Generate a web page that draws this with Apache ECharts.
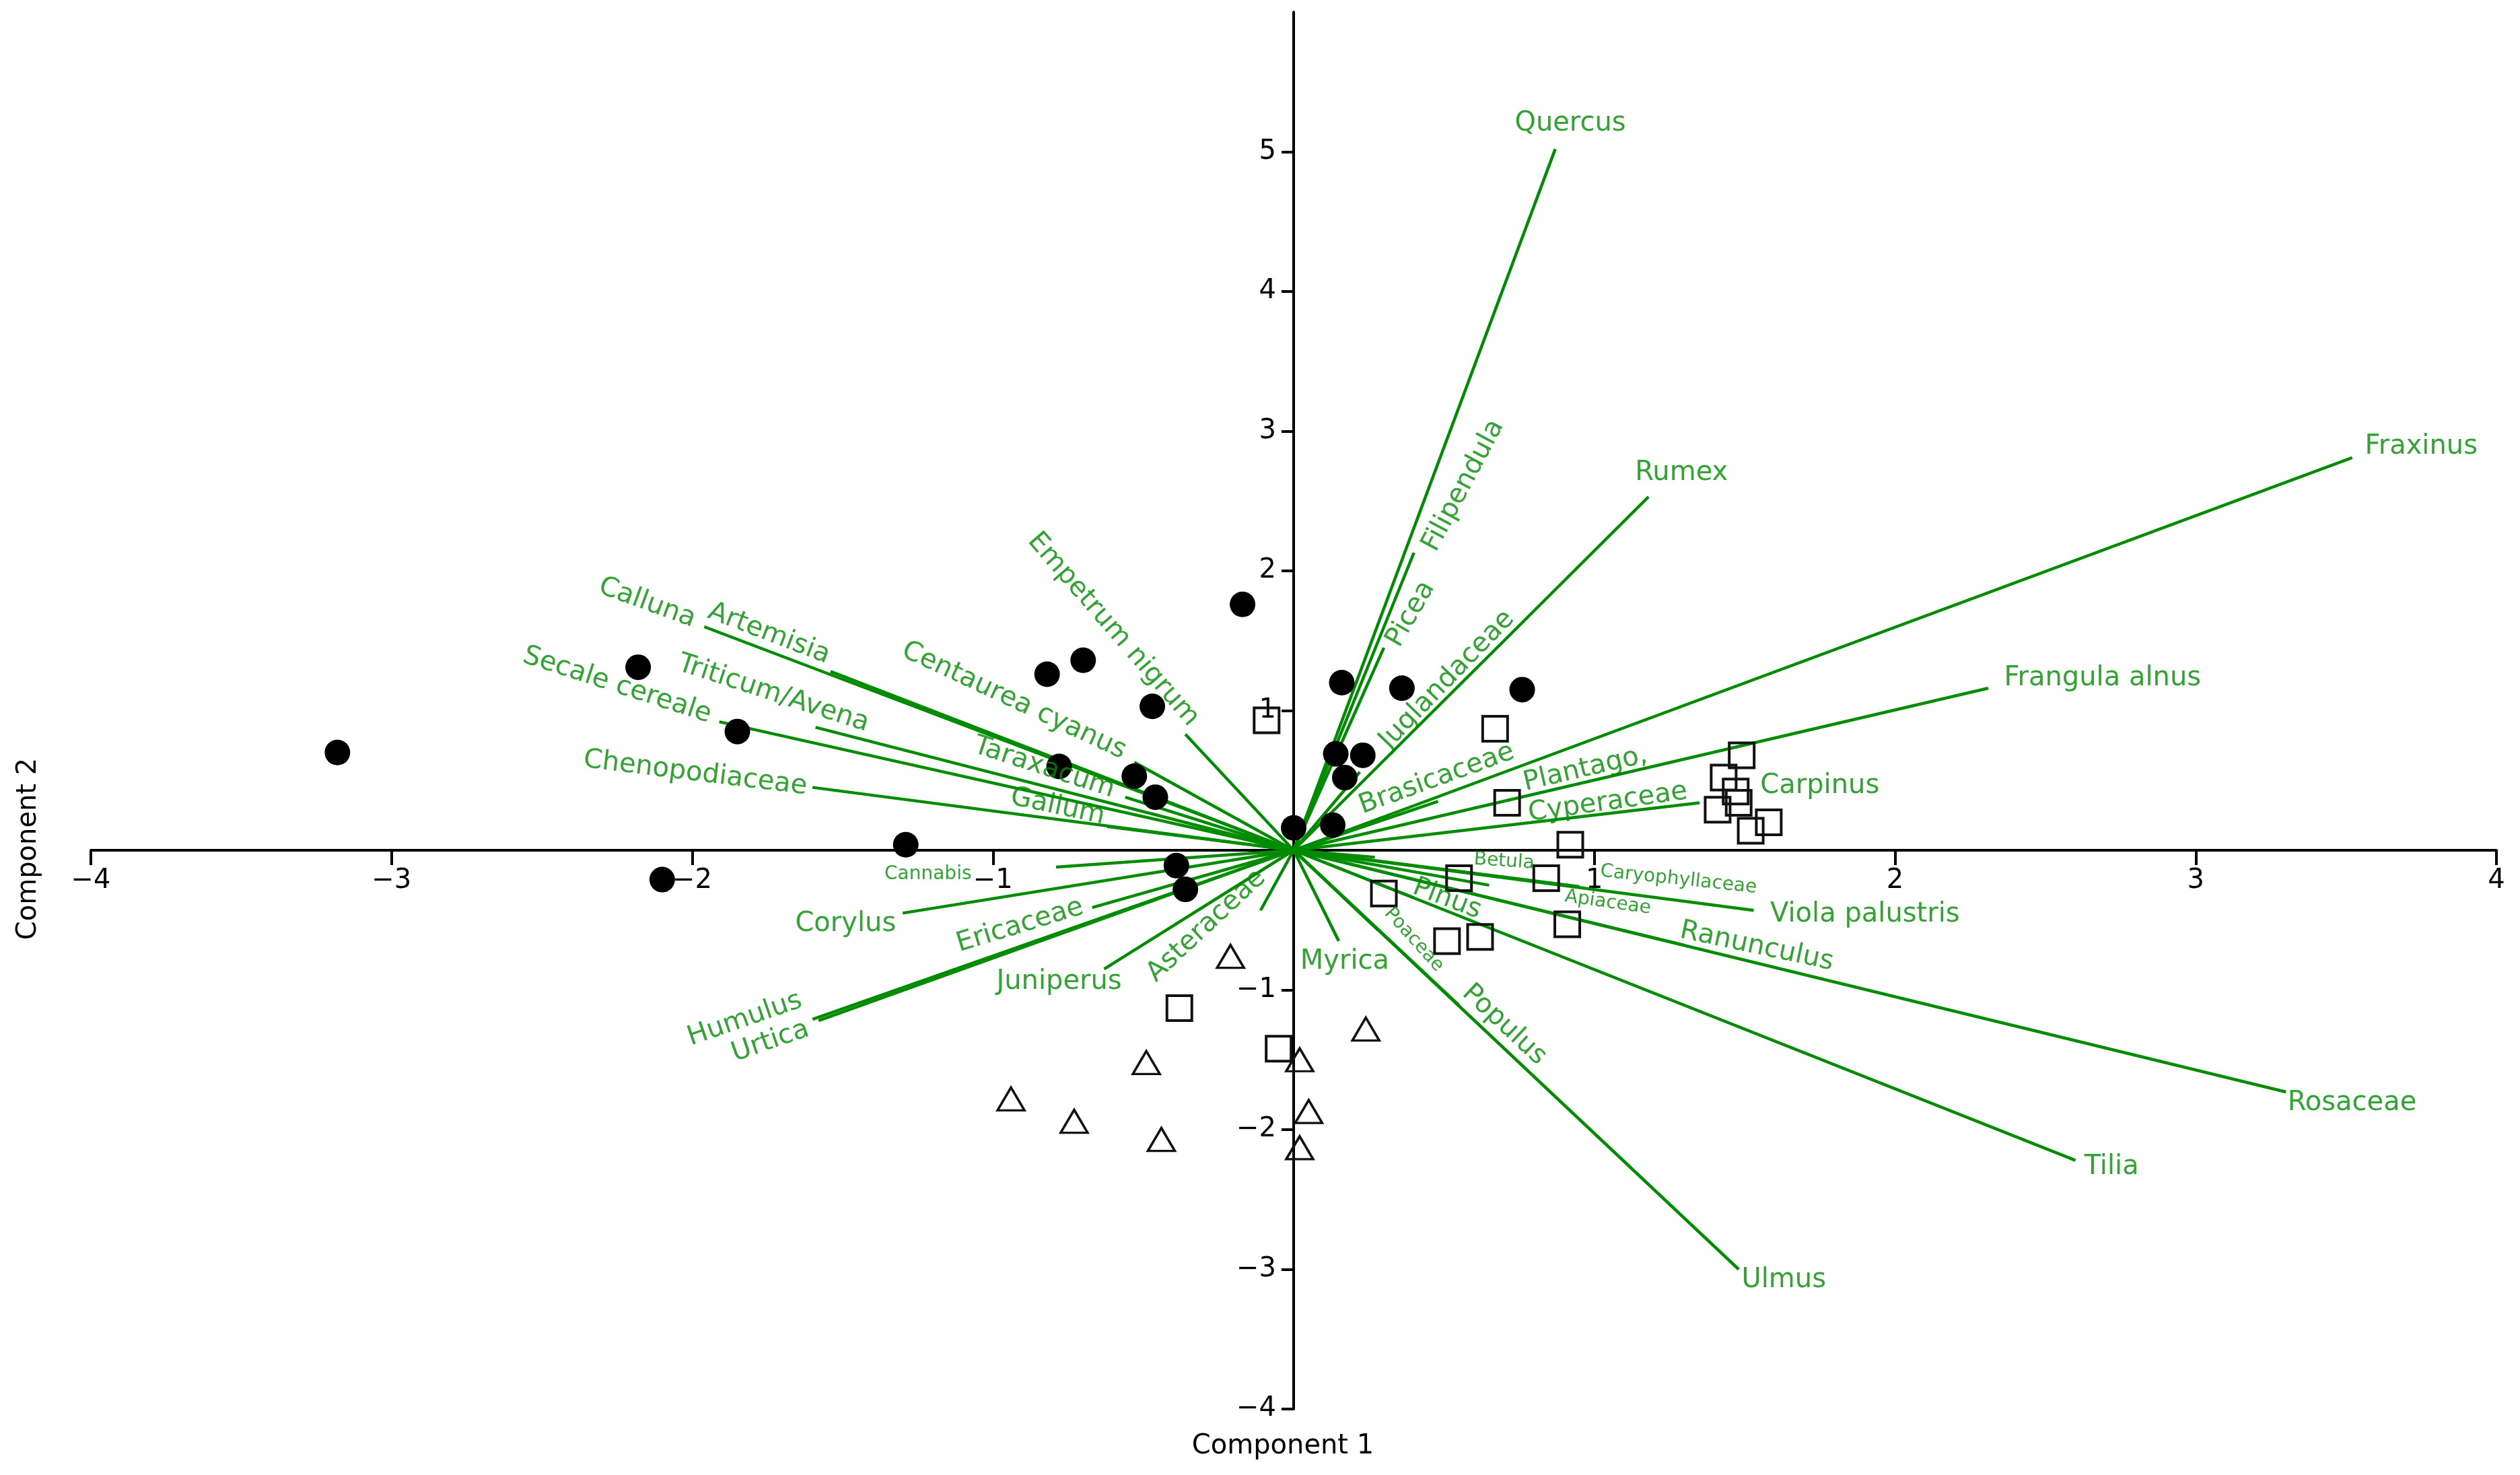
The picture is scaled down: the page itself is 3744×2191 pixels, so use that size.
<!DOCTYPE html>
<html>
<head>
<meta charset="utf-8">
<script src="https://cdn.jsdelivr.net/npm/echarts@6/dist/echarts.min.js"></script>
<style>
html,body{margin:0;padding:0;background:#ffffff;}
#chart{width:3744px;height:2191px;}
</style>
</head>
<body>
<div id="chart"></div>
<script>
// ---------------- data ----------------
const xTickValues = [-4, -3, -2, -1, 0, 1, 2, 3, 4];
const yTickValues = [-4, -3, -2, -1, 0, 1, 2, 3, 4, 5];
const xAxisTitle = 'Component 1';
const yAxisTitle = 'Component 2';

// sample scores (filled circles)
const circlePoints = [
  [-3.18, 0.70], [-2.18, 1.31], [-1.85, 0.85], [-2.10, -0.21], [-1.29, 0.04],
  [-0.82, 1.26], [-0.70, 1.36], [-0.17, 1.76], [-0.47, 1.03], [-0.78, 0.60],
  [-0.53, 0.53], [-0.46, 0.38], [-0.39, -0.11], [-0.36, -0.28], [0.00, 0.16],
  [0.16, 1.20], [0.36, 1.16], [0.14, 0.69], [0.23, 0.68], [0.17, 0.52],
  [0.13, 0.18], [0.76, 1.15]
];
// sample scores (open squares)
const squarePoints = [
  [-0.09, 0.93], [0.67, 0.87], [0.71, 0.34], [0.92, 0.04], [1.49, 0.68],
  [1.43, 0.52], [1.47, 0.42], [1.48, 0.34], [1.41, 0.29], [1.52, 0.14],
  [1.58, 0.20], [0.55, -0.20], [0.84, -0.20], [0.30, -0.31], [0.51, -0.65],
  [0.62, -0.62], [0.91, -0.53], [-0.38, -1.13], [-0.05, -1.42]
];
// sample scores (open triangles)
const trianglePoints = [
  [-0.21, -0.76], [0.24, -1.28], [-0.49, -1.52], [0.02, -1.50], [-0.94, -1.78],
  [-0.73, -1.94], [0.05, -1.87], [-0.44, -2.07], [0.02, -2.13]
];

// loading vectors (end points, start at origin)
const vectorNames = [
  'Quercus', 'Filipendula', 'Picea', 'Juglandaceae', 'Rumex', 'Fraxinus',
  'Frangula alnus', 'Brasicaceae', 'Plantago, Cyperaceae',
  'Empetrum nigrum', 'Calluna', 'Artemisia', 'Triticum/Avena', 'Secale cereale',
  'Chenopodiaceae', 'Centaurea cyanus', 'Taraxacum', 'Galium',
  'Cannabis', 'Corylus', 'Ericaceae', 'Humulus', 'Urtica', 'Juniperus',
  'Asteraceae', 'Myrica',
  'Betula', 'Apiaceae', 'Caryophyllaceae', 'Viola palustris', 'Ranunculus',
  'Rosaceae', 'Pinus', 'Tilia', 'Poaceae', 'Populus', 'Ulmus'
];
const vectorEnds = [
  [0.87, 5.02], [0.40, 2.13], [0.30, 1.45], [0.22, 0.56], [1.18, 2.53], [3.52, 2.81],
  [2.31, 1.16], [0.48, 0.35], [1.35, 0.34],
  [-0.36, 0.83], [-1.96, 1.60], [-1.54, 1.28], [-1.59, 0.88], [-1.91, 0.92],
  [-1.60, 0.45], [-0.53, 0.63], [-0.56, 0.38], [-0.62, 0.17],
  [-0.79, -0.12], [-1.30, -0.45], [-0.67, -0.41], [-1.60, -1.21], [-1.58, -1.22], [-0.63, -0.85],
  [-0.11, -0.43], [0.15, -0.65],
  [0.27, -0.05], [0.65, -0.25], [0.95, -0.26], [1.53, -0.43], [1.30, -0.68],
  [3.30, -1.73], [0.40, -0.34], [2.60, -2.22], [0.28, -0.57], [0.55, -1.11], [1.48, -3.00]
];

// vector labels: text, anchor (data units), angle (degrees)
const labelTexts = [
  'Quercus', 'Filipendula', 'Picea', 'Juglandaceae', 'Rumex', 'Fraxinus',
  'Frangula alnus', 'Brasicaceae', 'Plantago,', 'Cyperaceae', 'Carpinus',
  'Empetrum nigrum', 'Calluna', 'Artemisia', 'Triticum/Avena', 'Secale cereale',
  'Chenopodiaceae', 'Centaurea cyanus', 'Taraxacum', 'Galium',
  'Cannabis', 'Corylus', 'Ericaceae', 'Humulus', 'Urtica', 'Juniperus',
  'Asteraceae', 'Myrica',
  'Betula', 'Caryophyllaceae', 'Apiaceae', 'Viola palustris', 'Ranunculus',
  'Pinus', 'Poaceae', 'Populus', 'Rosaceae', 'Tilia', 'Ulmus'
];
const labelAnchors = [
  [0.92, 5.20], [0.565, 2.61], [0.39, 1.69], [0.51, 1.22], [1.29, 2.70], [3.75, 2.89],
  [2.69, 1.23], [0.476, 0.51], [0.97, 0.58], [1.045, 0.34], [1.75, 0.46],
  [-0.60, 1.58], [-2.15, 1.77], [-1.745, 1.55], [-1.73, 1.12], [-2.25, 1.18],
  [-1.99, 0.55], [-0.93, 1.07], [-0.83, 0.59], [-0.785, 0.31],
  [-1.216, -0.17], [-1.49, -0.53], [-0.91, -0.54], [-1.825, -1.21], [-1.74, -1.37], [-0.78, -0.945],
  [-0.29, -0.54], [0.17, -0.80],
  [0.70, -0.08], [1.28, -0.21], [1.045, -0.375], [1.90, -0.46], [1.54, -0.69],
  [0.51, -0.35], [0.40, -0.64], [0.70, -1.25], [3.52, -1.81], [2.72, -2.27], [1.63, -3.08]
];
const labelAngles = [
  0, 62, 60, 46, 0, 0,
  0, 20, 13, 8, 0,
  -49, -20, -21, -18, -18,
  -7, -25, -18, -12,
  0, 0, 17, 19, 19, 0,
  43, 0,
  -4, -6, -8, 0, -12,
  -21, -48, -43, 0, 0, 0
];
const smallLabelTexts = ['Cannabis', 'Betula', 'Caryophyllaceae', 'Apiaceae', 'Poaceae'];

// ---------------- chart ----------------
const GREEN = '#008c00';
const FONT = 'DejaVu Sans';
const fmt = v => (v === 0 ? '' : (v < 0 ? '\u2212' + Math.abs(v) : String(v)));

const W = 3744, H = 2191;
const G = { left: 135, right: 35, top: 18, bottom: 98 };
const X_MIN = -4, X_MAX = 4, Y_MIN = -4, Y_MAX = 6;
// shift the axes so that they cross at the origin (labels follow the lines)
const gridW = W - G.left - G.right, gridH = H - G.top - G.bottom;
const xAxisOffset = -gridH * (0 - Y_MIN) / (Y_MAX - Y_MIN);
const yAxisOffset = -gridW * (0 - X_MIN) / (X_MAX - X_MIN);

const chart = echarts.init(document.getElementById('chart'), null, { renderer: 'canvas' });

const option = {
  animation: false,
  backgroundColor: '#ffffff',
  grid: { left: G.left, right: G.right, top: G.top, bottom: G.bottom, containLabel: false },
  xAxis: {
    type: 'value', min: X_MIN, max: X_MAX, interval: 1, position: 'bottom', offset: xAxisOffset,
    axisLine: { onZero: false, lineStyle: { color: '#000', width: 4 } },
    axisTick: { show: true, length: 22, lineStyle: { color: '#000', width: 4 }, customValues: xTickValues },
    axisLabel: { customValues: xTickValues, formatter: fmt, fontSize: 40, fontFamily: FONT, color: '#000', margin: 26 },
    splitLine: { show: false }
  },
  yAxis: {
    type: 'value', min: Y_MIN, max: Y_MAX, interval: 1, position: 'left', offset: yAxisOffset,
    axisLine: { onZero: false, lineStyle: { color: '#000', width: 4 } },
    axisTick: { show: true, length: 18, lineStyle: { color: '#000', width: 4 }, customValues: yTickValues },
    axisLabel: { customValues: yTickValues, formatter: fmt, fontSize: 40, fontFamily: FONT, color: '#000', margin: 26 },
    splitLine: { show: false }
  },
  graphic: [
    { type: 'text', x: 1906, y: 2149, style: { text: xAxisTitle, font: '40px "DejaVu Sans"', fill: '#000', align: 'center', verticalAlign: 'middle' } },
    { type: 'text', x: 43, y: 1261, rotation: Math.PI / 2, style: { text: yAxisTitle, font: '40px "DejaVu Sans"', fill: '#000', align: 'center', verticalAlign: 'middle' } }
  ],
  series: [
    {
      type: 'lines', coordinateSystem: 'cartesian2d', z: 2,
      lineStyle: { color: GREEN, width: 4.5, opacity: 1 },
      data: vectorEnds.map((e, i) => ({ name: vectorNames[i], coords: [[0, 0], e] }))
    },
    {
      type: 'scatter', z: 3, symbol: 'circle', symbolSize: 38,
      itemStyle: { color: '#000', opacity: 1 },
      data: circlePoints
    },
    {
      type: 'scatter', z: 3, symbol: 'rect', symbolSize: 37,
      itemStyle: { color: 'rgba(0,0,0,0)', borderColor: '#111', borderWidth: 4, opacity: 1 },
      data: squarePoints
    },
    {
      type: 'scatter', z: 3, symbol: 'triangle', symbolSize: [40, 34],
      itemStyle: { color: 'rgba(0,0,0,0)', borderColor: '#111', borderWidth: 3.5, opacity: 1 },
      data: trianglePoints
    },
    {
      type: 'scatter', z: 4, symbol: 'circle', symbolSize: 1,
      itemStyle: { color: 'rgba(0,0,0,0)' },
      label: {
        show: true, position: 'inside', formatter: '{b}', color: GREEN,
        fontFamily: FONT, fontSize: 40, align: 'center', verticalAlign: 'middle'
      },
      data: labelTexts.map((t, i) => ({
        name: t,
        value: labelAnchors[i],
        label: { rotate: labelAngles[i], fontSize: smallLabelTexts.includes(t) ? 28 : 40 }
      }))
    }
  ]
};
chart.setOption(option);
</script>
</body>
</html>
